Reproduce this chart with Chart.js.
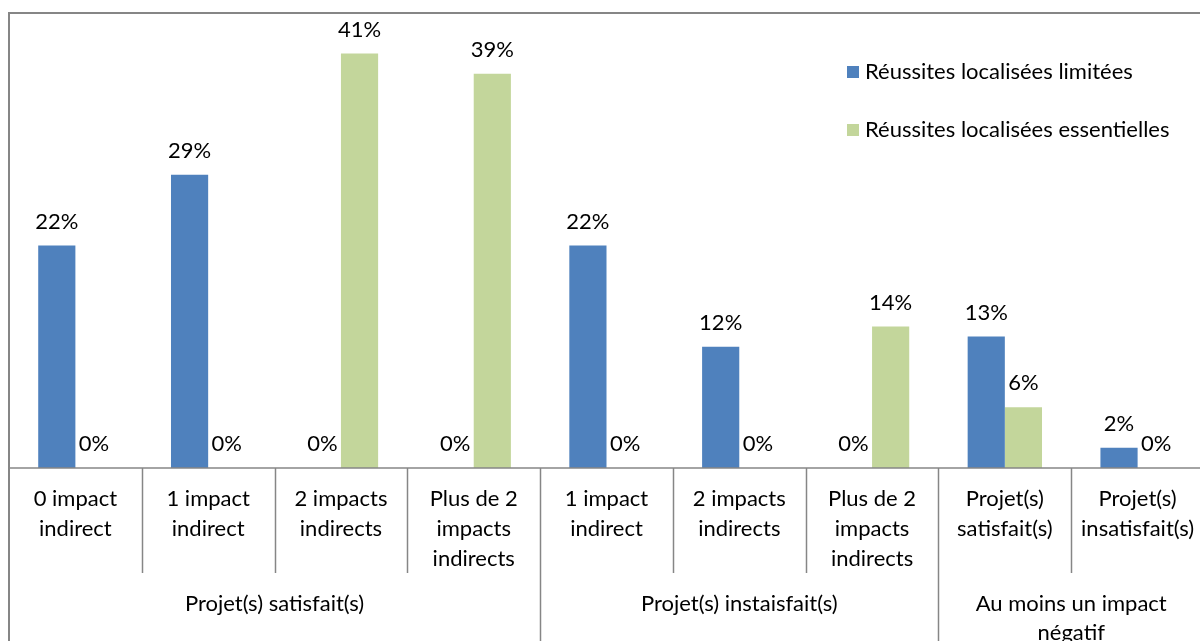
<!DOCTYPE html>
<html lang="fr">
<head>
<meta charset="utf-8">
<title>Réussites localisées</title>
<script src="https://cdn.jsdelivr.net/npm/chart.js@4.4.1/dist/chart.umd.min.js"></script>
<style>
  html, body { margin: 0; padding: 0; background: #ffffff; overflow: hidden; }
  #wrap { position: absolute; left: 0; top: 0; width: 1210px; height: 660px; }
</style>
</head>
<body>
<div id="wrap"><canvas id="myChart" width="1210" height="660"></canvas></div>
<script>
var categories = [
  ["0 impact", "indirect"],
  ["1 impact", "indirect"],
  ["2 impacts", "indirects"],
  ["Plus de 2", "impacts", "indirects"],
  ["1 impact", "indirect"],
  ["2 impacts", "indirects"],
  ["Plus de 2", "impacts", "indirects"],
  ["Projet(s)", "satisfait(s)"],
  ["Projet(s)", "insatisfait(s)"]
];
var groupLabels = [
  ["Projet(s) satisfait(s)"],
  ["Projet(s) instaisfait(s)"],
  ["Au moins un impact", "négatif"]
];
var groupSizes = [4, 3, 2];
var seriesNames = ["Réussites localisées limitées", "Réussites localisées essentielles"];
var limitees = [0.22, 0.29, 0, 0, 0.22, 0.12, 0, 0.13, 0.02];
var essentielles = [0, 0, 0.41, 0.39, 0, 0, 0.14, 0.06, 0];
var yMax = 0.45;

document.addEventListener("DOMContentLoaded", function () {
  var police = "Lato, 'Open Sans', sans-serif";
  var taille = 22;
  var gris = "#868686";
  var couleurs = ["#4F81BD", "#C3D69B"];

  // cadre, axe, separateurs, groupes, etiquettes et legende
  var dessinExcel = {
    id: "dessinExcel",
    afterDatasetsDraw: function (chart) {
      var ctx = chart.ctx;
      var area = chart.chartArea;
      var x = chart.scales.x;
      var largeurCat = x.width / categories.length;
      var bas = chart.height;

      ctx.save();
      ctx.font = taille + "px " + police;
      ctx.fillStyle = "#000000";
      ctx.textAlign = "center";
      ctx.textBaseline = "middle";

      // valeurs au-dessus des barres
      chart.data.datasets.forEach(function (ds, i) {
        var meta = chart.getDatasetMeta(i);
        meta.data.forEach(function (bar, j) {
          var txt = Math.round(ds.data[j] * 100) + "%";
          ctx.fillText(txt, bar.x, bar.y - 24);
        });
      });

      // cadre du graphique
      ctx.strokeStyle = gris;
      ctx.lineWidth = 2;
      ctx.strokeRect(area.left, area.top, area.right - area.left, bas + 10);

      // axe horizontal
      ctx.lineWidth = 1.5;
      ctx.beginPath();
      ctx.moveTo(area.left, area.bottom);
      ctx.lineTo(area.right, area.bottom);
      ctx.stroke();

      // separateurs des categories et des groupes
      var limites = [0];
      groupSizes.reduce(function (acc, n) {
        limites.push(acc + n);
        return acc + n;
      }, 0);
      for (var i = 1; i < categories.length; i++) {
        var xi = Math.round(x.left + i * largeurCat) + 0.5;
        ctx.beginPath();
        ctx.moveTo(xi, area.bottom);
        ctx.lineTo(xi, limites.includes(i) ? bas : area.bottom + 105);
        ctx.stroke();
      }

      // libelles des groupes
      var debut = 0;
      groupLabels.forEach(function (lignes, g) {
        var centre = x.left + (debut + groupSizes[g] / 2) * largeurCat;
        lignes.forEach(function (ligne, k) {
          ctx.fillText(ligne, centre, 604 + k * 29);
        });
        debut += groupSizes[g];
      });

      // legende
      chart.data.datasets.forEach(function (ds, i) {
        var y = 72 + i * 58;
        ctx.fillStyle = ds.backgroundColor;
        ctx.fillRect(847, y - 6, 12, 12);
        ctx.fillStyle = "#000000";
        ctx.textAlign = "left";
        ctx.fillText(ds.label, 865, y);
      });

      ctx.restore();
    }
  };

  var canvas = document.getElementById("myChart");
  window.myChart = new Chart(canvas.getContext("2d"), {
    type: "bar",
    data: {
      labels: categories,
      datasets: [
        { label: seriesNames[0], data: limitees, backgroundColor: couleurs[0], borderWidth: 0 },
        { label: seriesNames[1], data: essentielles, backgroundColor: couleurs[1], borderWidth: 0 }
      ]
    },
    options: {
      responsive: false,
      devicePixelRatio: 1,
      animation: false,
      layout: { padding: { left: 9, top: 13, right: 6, bottom: 0 } },
      datasets: { bar: { categoryPercentage: 0.56, barPercentage: 1 } },
      plugins: {
        legend: { display: false },
        tooltip: { enabled: false }
      },
      scales: {
        x: {
          grid: { display: false },
          border: { display: false },
          ticks: {
            autoSkip: false,
            maxRotation: 0,
            color: "#000000",
            padding: 8,
            font: { family: police, size: taille, lineHeight: 1.364 }
          },
          afterFit: function (scale) {
            scale.height = 192;
          }
        },
        y: {
          display: false,
          min: 0,
          max: yMax
        }
      }
    },
    plugins: [dessinExcel]
  });
});
</script>
</body>
</html>
